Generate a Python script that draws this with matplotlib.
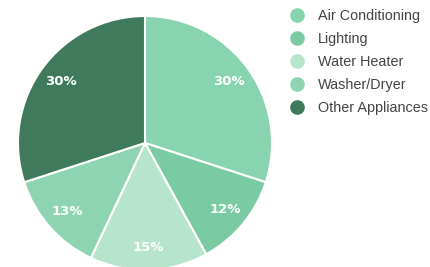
import matplotlib
matplotlib.use("Agg")
import matplotlib.pyplot as plt
from matplotlib.lines import Line2D

categories = ["Air Conditioning", "Lighting", "Water Heater", "Washer/Dryer", "Other Appliances"]
values = [30, 12, 15, 13, 30]
colors = ["#88d4b0", "#7acba3", "#b6e4cd", "#8ed4b2", "#3f7a5c"]

W, H = 431, 267
fig = plt.figure(figsize=(W / 100, H / 100), dpi=100)
fig.patch.set_facecolor("white")

cx, cy, r = 145, 143, 127
ax = fig.add_axes([(cx - r) / W, (H - cy - r) / H, 2 * r / W, 2 * r / H])
wedges, texts, autotexts = ax.pie(
    values, colors=colors, startangle=90, counterclock=False,
    autopct=lambda p: f"{p:.0f}%", pctdistance=0.82,
    wedgeprops=dict(edgecolor="white", linewidth=1.5),
    textprops=dict(color="white", fontsize=9.5, fontweight="bold", family="DejaVu Sans"),
)
for w in wedges:
    w.set_clip_on(False)
ax.set_xlim(-1, 1)
ax.set_ylim(-1, 1)
ax.set_aspect("auto")
ax.axis("off")

handles = [Line2D([], [], marker="o", linestyle="none", markersize=9.5,
                  markerfacecolor=c, markeredgecolor=c) for c in colors]
leg = fig.legend(handles, categories, loc="upper left",
                 bbox_to_anchor=(290 / W, 1 - 9 / H), frameon=False,
                 prop=dict(family="Liberation Sans", size=10.4),
                 labelcolor="#444444", handletextpad=0.95, labelspacing=0.62,
                 handlelength=1.0, borderpad=0, borderaxespad=0)

fig.savefig("out.png", dpi=100, facecolor="white")
